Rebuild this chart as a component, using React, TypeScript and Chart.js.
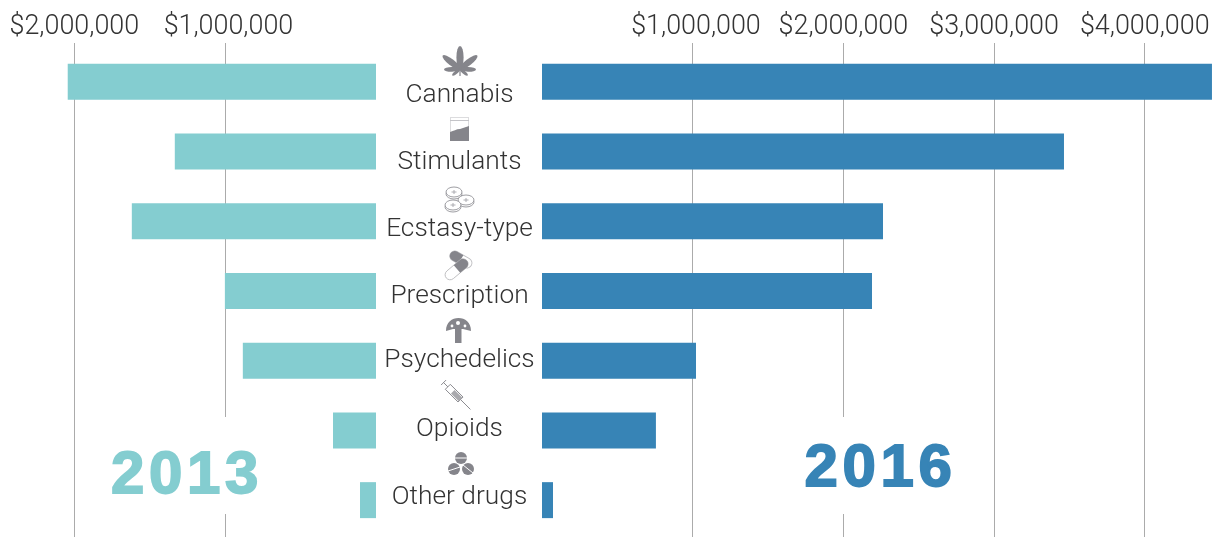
import React, { useEffect, useRef } from "react";
import { Chart, registerables } from "chart.js";

Chart.register(...registerables);

const categories = ["Cannabis", "Stimulants", "Ecstasy-type", "Prescription", "Psychedelics", "Opioids", "Other drugs"];
const values2013 = [2044000, 1334000, 1619000, 1002000, 883000, 285000, 106000];
const values2016 = [4446000, 3464000, 2263000, 2190000, 1022000, 756000, 73000];
const ticks2013 = [1000000, 2000000];
const ticks2016 = [1000000, 2000000, 3000000, 4000000];

const TEAL = "#84cdd0";
const BLUE = "#3784b6";
const GRID = "#ababab";
const INK = "#333333";
const ICON = "#85858b";
const FONT = "Roboto, sans-serif";
const TICK_SIZE = 26.9;
const LABEL_SIZE = 26.3;

const labelCenters = [93, 160, 227, 294, 358, 427, 495];

function money(v: number) {
  const text = "$" + Number(v).toLocaleString("en-US");
  return v === 1000000 ? " " + text : text;
}

function makeChart(canvas: HTMLCanvasElement, data: number[], tickValues: number[], color: string, max: number, reverse: boolean) {
  const setTicks = (scale: any) => {
    scale.ticks = tickValues.map((value) => ({ value }));
  };
  return new Chart(canvas, {
    type: "bar",
    data: {
      labels: categories,
      datasets: [{ data, backgroundColor: color, categoryPercentage: 1, barPercentage: 0.516, xAxisID: "x", yAxisID: "y" }],
    },
    options: {
      indexAxis: "y",
      responsive: false,
      maintainAspectRatio: false,
      animation: false,
      layout: { padding: 0 },
      plugins: { legend: { display: false }, tooltip: { enabled: false } },
      scales: {
        y: { display: false, grid: { display: false } },
        x: {
          type: "linear",
          position: "top",
          reverse,
          min: 0,
          max,
          afterBuildTicks: setTicks,
          afterFit: (s: any) => {
            s.height = 47;
          },
          border: { display: false },
          grid: { color: GRID, lineWidth: 1, tickLength: 4 },
          ticks: {
            autoSkip: false,
            maxRotation: 0,
            minRotation: 0,
            padding: 0,
            color: INK,
            font: { family: FONT, size: TICK_SIZE, weight: "300" },
            callback: (v: any) => money(v),
          },
        },
        edge: {
          type: "linear",
          position: "bottom",
          reverse,
          min: 0,
          max,
          afterBuildTicks: setTicks,
          afterFit: (s: any) => {
            s.height = 2;
          },
          border: { display: false },
          grid: { color: GRID, lineWidth: 1, tickLength: 2, drawOnChartArea: false },
          ticks: { display: false },
        },
      },
    } as any,
  });
}

const abs = (left: number, top: number, width: number, height: number): React.CSSProperties => ({
  position: "absolute",
  left,
  top,
  width,
  height,
});

const leaflets: [number, number, number][] = [
  [0, 11.5, 3.6],
  [-52, 11, 3.2],
  [52, 11, 3.2],
  [-92, 8, 2.4],
  [92, 8, 2.4],
  [-130, 5, 1.6],
  [130, 5, 1.6],
];

const tablets: [number, number][] = [
  [454, 192],
  [466, 200],
  [453, 205],
];

function Icons() {
  return (
    <svg style={abs(0, 0, 1221, 537)} viewBox="0 0 1221 537">
      {/* cannabis */}
      <g fill={ICON}>
        {leaflets.map(([a, r, w]) => (
          <ellipse key={a} cx="460" cy={69 - r} rx={w} ry={r} transform={`rotate(${a} 460 69)`} />
        ))}
        <rect x="459.4" y="69" width="1.2" height="7" />
      </g>
      {/* bag */}
      <rect x="450.5" y="117.5" width="18" height="23" fill="#fff" stroke="#dcdcde" />
      <line x1="450" y1="120.5" x2="469" y2="120.5" stroke="#c4c4c8" />
      <path d="M450 141 L450 132 C454 131 456 129 460 129 C463 128 466 127 469 126 L469 141 Z" fill={ICON} />
      {/* tablets */}
      {tablets.map(([x, y]) => (
        <g key={x + "-" + y}>
          <ellipse cx={x} cy={y + 2} rx="8" ry="5" fill="#fff" stroke={ICON} strokeWidth="0.8" />
          <ellipse cx={x} cy={y} rx="8" ry="5" fill="#fff" stroke={ICON} strokeWidth="0.8" />
          <path d={`M${x - 2.5} ${y} L${x + 2.5} ${y} M${x} ${y - 2} L${x} ${y + 2}`} stroke="#a5a5aa" strokeWidth="0.9" />
        </g>
      ))}
      {/* capsules */}
      <g transform="rotate(30 460 259)">
        <rect x="449" y="254" width="24" height="10" rx="5" fill="#fff" stroke="#bdbdc0" strokeWidth="0.9" />
        <path d="M461 254 L454 254 A5 5 0 0 0 454 264 L461 264 Z" fill={ICON} />
      </g>
      <g transform="rotate(-40 457 269)">
        <rect x="443" y="264" width="27" height="10" rx="5" fill="#fff" stroke="#bdbdc0" strokeWidth="0.9" />
        <path d="M457 264 L465 264 A5 5 0 0 1 465 274 L457 274 Z" fill={ICON} />
      </g>
      {/* mushroom */}
      <path d="M446 331 C446 322 452 318 458.5 318 C465 318 471 322 471 331 L463 329 L461.5 329 L461.5 343 L455 343 L455 329 L453 329 Z" fill={ICON} />
      <circle cx="458" cy="323" r="2" fill="#fff" />
      <circle cx="452" cy="326" r="1.4" fill="#fff" />
      <circle cx="465" cy="326" r="1.4" fill="#fff" />
      {/* syringe */}
      <g transform="rotate(45 457 396)" stroke={ICON} fill="none" strokeWidth="0.9">
        <line x1="438" y1="396" x2="476" y2="396" />
        <line x1="438" y1="392.5" x2="438" y2="399.5" />
        <rect x="444" y="392.5" width="18" height="7" fill="#fff" />
        <rect x="451" y="393.5" width="11" height="5" fill="#a9a9ad" stroke="none" />
      </g>
      {/* tablets, solid */}
      <g fill={ICON}>
        <circle cx="461" cy="458" r="6" />
        <circle cx="454" cy="469" r="6" />
        <circle cx="468" cy="469" r="6" />
      </g>
      <g stroke="#fff" strokeWidth="1">
        <line x1="455" y1="458" x2="467" y2="458" />
        <line x1="448" y1="471" x2="460" y2="467" />
        <line x1="463" y1="465" x2="473" y2="473" />
      </g>
    </svg>
  );
}

export default function App() {
  const leftRef = useRef<HTMLCanvasElement>(null);
  const rightRef = useRef<HTMLCanvasElement>(null);

  useEffect(() => {
    const a = makeChart(leftRef.current!, values2013, ticks2013, TEAL, 2493000, true);
    const b = makeChart(rightRef.current!, values2016, ticks2016, BLUE, 4506000, false);
    return () => {
      a.destroy();
      b.destroy();
    };
  }, []);

  const yearStyle = (color: string, shift: number): React.CSSProperties => ({
    position: "absolute",
    top: 0,
    bottom: 0,
    left: shift,
    right: 0,
    textAlign: "center",
    fontFamily: '"Liberation Sans", Arial, sans-serif',
    fontWeight: 700,
    fontSize: 60,
    letterSpacing: 4.6,
    color,
    WebkitTextStroke: `1.8px ${color}`,
  });

  return (
    <div style={{ ...abs(0, 0, 1221, 537), overflow: "hidden", background: "#fff" }}>
      <canvas ref={leftRef} width={376} height={537} style={{ ...abs(0, 0, 376, 537), display: "block" }} />
      <canvas ref={rightRef} width={679} height={537} style={{ ...abs(542, 0, 679, 537), display: "block" }} />

      <div style={{ ...abs(100, 417, 170, 97), background: "#fff" }}>
        <div style={{ ...yearStyle(TEAL, 4), lineHeight: "112px" }}>2013</div>
      </div>
      <div style={{ ...abs(794, 417, 170, 97), background: "#fff" }}>
        <div style={{ ...yearStyle(BLUE, 3), lineHeight: "98px" }}>2016</div>
      </div>

      <Icons />

      {categories.map((c, i) => (
        <div
          key={c}
          style={{
            position: "absolute",
            left: 376,
            width: 167,
            top: labelCenters[i] - 20,
            height: 40,
            lineHeight: "40px",
            textAlign: "center",
            fontFamily: FONT,
            fontWeight: 300,
            fontSize: LABEL_SIZE,
            color: INK,
            whiteSpace: "nowrap",
          }}
        >
          {c}
        </div>
      ))}
    </div>
  );
}
